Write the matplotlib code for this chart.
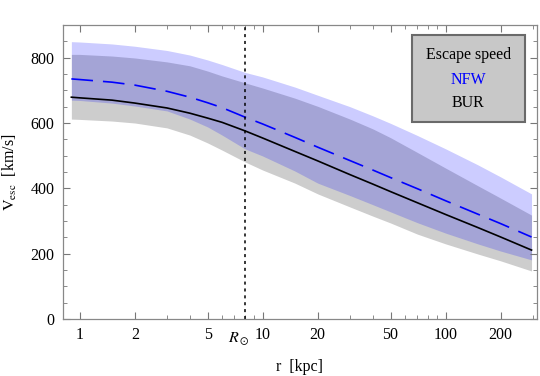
import numpy as np
import matplotlib
matplotlib.use("Agg")
import matplotlib.pyplot as plt
from matplotlib.patches import Rectangle
from matplotlib.ticker import FixedLocator, NullFormatter

plt.rcParams['font.family'] = ['Liberation Serif', 'DejaVu Serif']
plt.rcParams['mathtext.fontset'] = 'stix'

# radio en kpc
r = [0.9, 1, 1.5, 2, 3, 4, 5, 6, 8, 10, 15, 20, 30, 40, 50, 70, 100, 150, 200, 295]

# NFW: centro, banda superior e inferior (km/s)
nfw = [735, 733, 725, 716, 697, 679, 662, 647, 618, 597, 556, 526, 485, 456, 433, 399, 362, 321, 292, 251]
nfw_hi = [849, 848, 842, 835, 822, 808, 793, 779, 755, 741, 710, 685, 650, 622, 599, 562, 521, 472, 435, 383]
nfw_lo = [670, 669, 661, 652, 637, 612, 588, 563, 521, 499, 453, 416, 378, 350, 328, 295, 263, 230, 208, 181]

# BUR: centro, banda superior e inferior (km/s)
bur = [679, 677, 670, 661, 646, 630, 615, 602, 576, 554, 513, 484, 442, 413, 390, 356, 320, 280, 251, 211]
bur_hi = [810, 810, 805, 799, 787, 775, 759, 744, 723, 707, 676, 651, 612, 582, 555, 510, 462, 408, 370, 318]
bur_lo = [612, 611, 606, 600, 585, 563, 539, 517, 481, 456, 416, 383, 343, 315, 294, 260, 230, 199, 178, 147]

r_sun = 8
xticks = [1, 2, 5, 10, 20, 50, 100, 200]
xlabels = ['1', '2', '5', '10', '20', '50', '100', '200']
xminor = [3, 4, 6, 7, 8, 9, 30, 40, 60, 70, 80, 90, 300]

fig = plt.figure(figsize=(5.4, 3.76), dpi=100)
ax = fig.add_axes([63/540, 57/376, 474/540, 294/376])

ax.fill_between(r, bur_lo, bur_hi, color='#cdcdcd', lw=0)
ax.fill_between(r, nfw_lo, nfw_hi, color=(0, 0, 1, 0.2), lw=0)
ax.plot(r, bur, color='black', lw=1.2)
ax.plot(r, nfw, color='blue', lw=1.2, dashes=(13, 6))
ax.axvline(r_sun, color='black', lw=1.1, dashes=(2, 2.5))

ax.set_xscale('log')
ax.set_xlim(0.81, 316)
ax.set_ylim(0, 900)

ax.xaxis.set_major_locator(FixedLocator(xticks))
ax.set_xticklabels(xlabels)
ax.xaxis.set_minor_locator(FixedLocator(xminor))
ax.xaxis.set_minor_formatter(NullFormatter())
ax.set_yticks([0, 200, 400, 600, 800])
ax.yaxis.set_minor_locator(FixedLocator(np.arange(0, 901, 50)))

ax.tick_params(which='both', direction='in', top=True, right=True,
               color='#777777', labelsize=11.5)
ax.tick_params(which='major', length=5, width=0.8, pad=6)
ax.tick_params(which='minor', length=3, width=0.6)
for s in ax.spines.values():
    s.set_color('#888888')
    s.set_linewidth(0.9)

ax.text(8.5, -0.077, r'$R_\odot$', transform=ax.get_xaxis_transform(),
        ha='right', va='baseline', fontsize=11.5)

ax.set_xlabel('r  [kpc]', fontsize=11.5)
ax.xaxis.set_label_coords(0.5, -0.135)
ax.set_ylabel(r'$\mathrm{V}_{\mathrm{esc}}$  [km/s]', fontsize=11.5)
ax.yaxis.set_label_coords(-0.093, 0.5)

# cuadro de leyenda
ax.add_patch(Rectangle((0.7357, 0.671), 0.239, 0.295, transform=ax.transAxes,
                       facecolor='#c8c8c8', edgecolor='#6a6a6a', lw=1.5, zorder=5))
ax.text(0.855, 0.898, 'Escape speed', transform=ax.transAxes, ha='center',
        va='center', fontsize=11.5, zorder=6)
ax.text(0.855, 0.813, 'NFW', transform=ax.transAxes, ha='center',
        va='center', fontsize=11.5, color='blue', zorder=6)
ax.text(0.855, 0.736, 'BUR', transform=ax.transAxes, ha='center',
        va='center', fontsize=11.5, zorder=6)

fig.savefig('out.png', dpi=100)
